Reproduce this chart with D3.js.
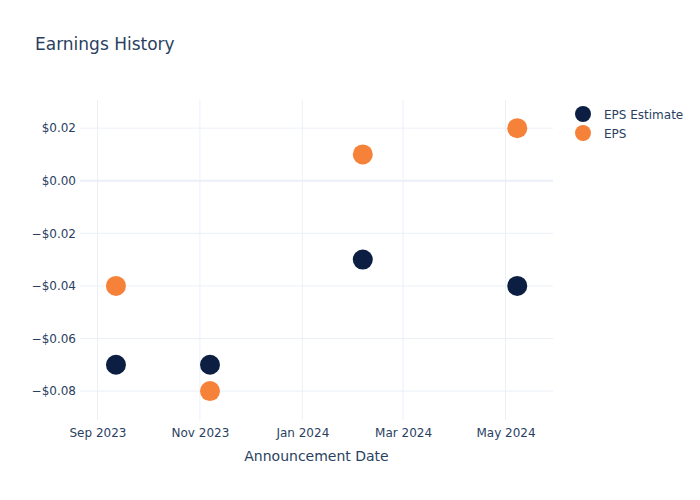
<!DOCTYPE html>
<html><head><meta charset="utf-8">
<script src="https://cdn.jsdelivr.net/npm/d3@7"></script>
<style>body{margin:0;background:#fff}text{font-family:"DejaVu Sans",sans-serif}</style>
</head><body><svg id="c" width="700" height="500"></svg>
<script>
const dates = ["2023-09-12","2023-11-07","2024-02-06","2024-05-08"];
const epsEstimate = [-0.07,-0.07,-0.03,-0.04];
const eps = [-0.04,-0.08,0.01,0.02];
const yTicks = [0.02,0.00,-0.02,-0.04,-0.06,-0.08];
const xTicks = ["2023-09-01","2023-11-01","2024-01-01","2024-03-01","2024-05-01"];
const seriesNames = ["EPS Estimate","EPS"];
const colors = ["#0c1f42","#f6823a"];

const W=700,H=500,m={l:80,r:147,t:100,b:80};
const svg=d3.select("#c");
const parse=d3.utcParse("%Y-%m-%d");
const x=d3.scaleUtc().domain([new Date(Date.UTC(2023,7,21,14)),new Date(Date.UTC(2024,4,29,7))]).range([m.l,W-m.r]);
const y=d3.scaleLinear().domain([-0.0910,0.0307]).range([H-m.b,m.t]);
const txt="#2a3f5f", grid="#ebf0f8";
// grid
svg.append("g").selectAll("line").data(xTicks).join("line")
 .attr("x1",d=>x(parse(d))).attr("x2",d=>x(parse(d))).attr("y1",m.t).attr("y2",H-m.b)
 .attr("stroke",grid).attr("stroke-width",1);
svg.append("g").selectAll("line").data(yTicks).join("line")
 .attr("x1",m.l).attr("x2",W-m.r).attr("y1",d=>y(d)).attr("y2",d=>y(d))
 .attr("stroke",grid).attr("stroke-width",d=>d===0?2:1);
// axes
const fmt=d=>(d<0?"\u2212":"")+"$"+Math.abs(d).toFixed(2);
const ya=d3.axisLeft(y).tickValues(yTicks).tickFormat(fmt).tickSize(0).tickPadding(4);
const yg=svg.append("g").attr("transform",`translate(${m.l},0)`).call(ya);
yg.select(".domain").remove();
yg.selectAll("text").attr("fill",txt).attr("font-size",12).attr("font-family","DejaVu Sans");
const xa=d3.axisBottom(x).tickValues(xTicks.map(parse)).tickFormat(d3.utcFormat("%b %Y")).tickSize(0).tickPadding(8);
const xg=svg.append("g").attr("transform",`translate(0,${H-m.b})`).call(xa);
xg.select(".domain").remove();
xg.selectAll("text").attr("fill",txt).attr("font-size",12).attr("font-family","DejaVu Sans");
// points
[epsEstimate,eps].forEach((vals,i)=>{
 svg.append("g").selectAll("circle").data(vals).join("circle")
  .attr("cx",(d,j)=>x(parse(dates[j]))).attr("cy",d=>y(d)).attr("r",10)
  .attr("fill",colors[i]);
});
// title
svg.append("text").attr("x",35).attr("y",50).attr("font-size",17).attr("fill",txt).text("Earnings History");
svg.append("text").attr("x",(m.l+W-m.r)/2).attr("y",461).attr("text-anchor","middle").attr("font-size",14).attr("fill",txt).text("Announcement Date");
// legend
seriesNames.forEach((n,i)=>{
 const g=svg.append("g").attr("transform",`translate(583,${114+i*19})`);
 g.append("circle").attr("r",8).attr("fill",colors[i]);
 g.append("text").attr("x",21).attr("y",4.5).attr("font-size",12).attr("fill",txt).text(n);
});
</script></body></html>
